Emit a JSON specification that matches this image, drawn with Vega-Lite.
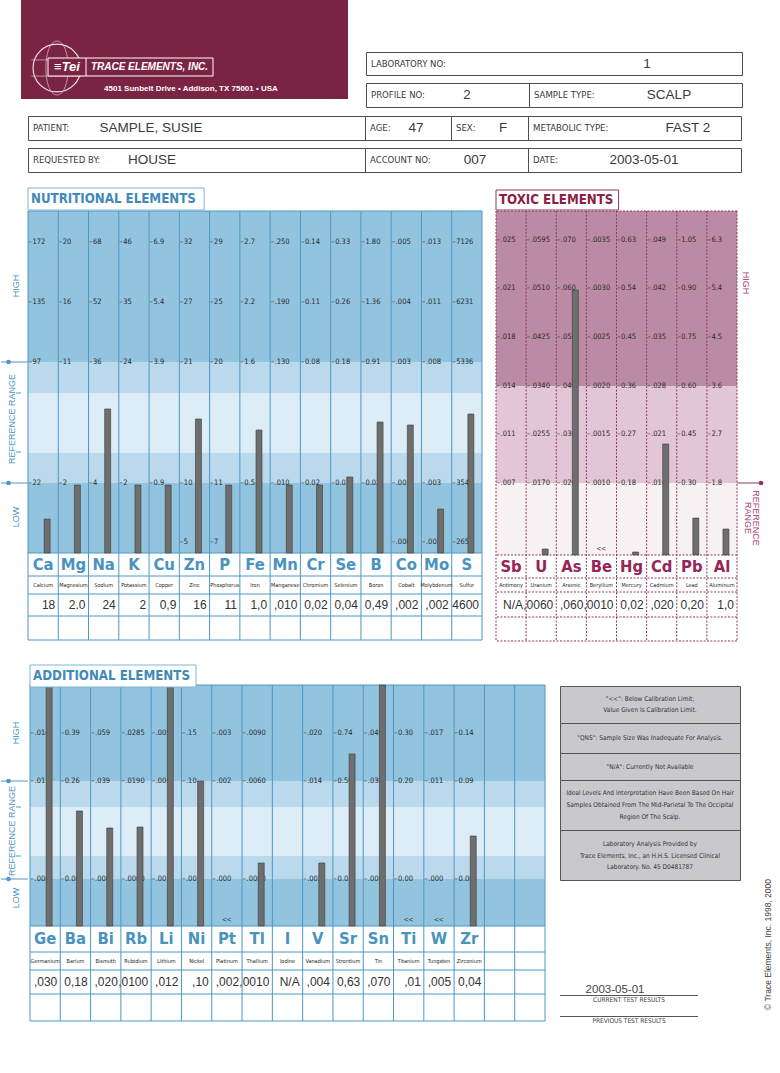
{
"$schema":"https://vega.github.io/schema/vega-lite/v6.json",
"background":"#ffffff",
"padding":0,
"config":{"view":{"stroke":null},"concat":{"spacing":0}},
"datasets":{
"nut":[
{"el":"Ca","name":"Calcium","res":"18","bar":34,"t1":"172","t2":"135","t3":"97","t4":"22","t5":""},
{"el":"Mg","name":"Magnesium","res":"2.0","bar":68,"t1":"20","t2":"16","t3":"11","t4":"2","t5":""},
{"el":"Na","name":"Sodium","res":"24","bar":144,"t1":"68","t2":"52","t3":"36","t4":"4","t5":""},
{"el":"K","name":"Potassium","res":"2","bar":68,"t1":"46","t2":"35","t3":"24","t4":"2","t5":""},
{"el":"Cu","name":"Copper","res":"0,9","bar":68,"t1":"6.9","t2":"5.4","t3":"3.9","t4":"0.9","t5":""},
{"el":"Zn","name":"Zinc","res":"16","bar":134,"t1":"32","t2":"27","t3":"21","t4":"10","t5":"5"},
{"el":"P","name":"Phosphorus","res":"11","bar":68,"t1":"29","t2":"25","t3":"20","t4":"11","t5":"7"},
{"el":"Fe","name":"Iron","res":"1,0","bar":123,"t1":"2.7","t2":"2.2","t3":"1.6","t4":"0.5","t5":""},
{"el":"Mn","name":"Manganese","res":",010","bar":68,"t1":".250","t2":".190","t3":".130","t4":".010","t5":""},
{"el":"Cr","name":"Chromium","res":"0,02","bar":68,"t1":"0.14","t2":"0.11","t3":"0.08","t4":"0.02","t5":""},
{"el":"Se","name":"Selenium","res":"0,04","bar":76,"t1":"0.33","t2":"0.26","t3":"0.18","t4":"0.03","t5":""},
{"el":"B","name":"Boron","res":"0,49","bar":131,"t1":"1.80","t2":"1.36","t3":"0.91","t4":"0.02","t5":""},
{"el":"Co","name":"Cobalt","res":",002","bar":128,"t1":".005","t2":".004","t3":".003","t4":".001","t5":".000"},
{"el":"Mo","name":"Molybdenum","res":",002","bar":44,"t1":".013","t2":".011","t3":".008","t4":".003","t5":".001"},
{"el":"S","name":"Sulfur","res":"4600","bar":139,"t1":"7126","t2":"6231","t3":"5336","t4":"3546","t5":"2651"}
],
"tox":[
{"el":"Sb","name":"Antimony","res":"N/A","bar":null,"flag":"","t1":".025","t2":".021","t3":".018","t4":".014","t5":".011","t6":".007"},
{"el":"U","name":"Uranium","res":",0060","bar":6,"flag":"","t1":".0595","t2":".0510","t3":".0425","t4":".0340","t5":".0255","t6":".0170"},
{"el":"As","name":"Arsenic","res":",060","bar":265,"flag":"","t1":".070","t2":".060","t3":".050","t4":".040","t5":".030","t6":".020"},
{"el":"Be","name":"Beryllium","res":",0010","bar":null,"flag":"<<","t1":".0035","t2":".0030","t3":".0025","t4":".0020","t5":".0015","t6":".0010"},
{"el":"Hg","name":"Mercury","res":"0,02","bar":3,"flag":"","t1":"0.63","t2":"0.54","t3":"0.45","t4":"0.36","t5":"0.27","t6":"0.18"},
{"el":"Cd","name":"Cadmium","res":",020","bar":111,"flag":"","t1":".049","t2":".042","t3":".035","t4":".028","t5":".021","t6":".014"},
{"el":"Pb","name":"Lead","res":"0,20","bar":37,"flag":"","t1":"1.05","t2":"0.90","t3":"0.75","t4":"0.60","t5":"0.45","t6":"0.30"},
{"el":"Al","name":"Aluminum","res":"1,0","bar":26,"flag":"","t1":"6.3","t2":"5.4","t3":"4.5","t4":"3.6","t5":"2.7","t6":"1.8"}
],
"add":[
{"el":"Ge","name":"Germanium","res":",030","bar":241,"flag":"","t1":".014","t2":".011","t3":".006"},
{"el":"Ba","name":"Barium","res":"0,18","bar":115,"flag":"","t1":"0.39","t2":"0.26","t3":"0.00"},
{"el":"Bi","name":"Bismuth","res":",020","bar":98,"flag":"","t1":".059","t2":".039","t3":".000"},
{"el":"Rb","name":"Rubidium","res":",0100","bar":99,"flag":"","t1":".0285","t2":".0190","t3":".0000"},
{"el":"Li","name":"Lithium","res":",012","bar":241,"flag":"","t1":".009","t2":".006","t3":".001"},
{"el":"Ni","name":"Nickel","res":",10","bar":145,"flag":"","t1":".15","t2":".10","t3":".00"},
{"el":"Pt","name":"Platinum","res":",002","bar":null,"flag":"<<","t1":".003","t2":".002","t3":".000"},
{"el":"Tl","name":"Thallium","res":",0010","bar":63,"flag":"","t1":".0090","t2":".0060","t3":".0000"},
{"el":"I","name":"Iodine","res":"N/A","bar":null,"flag":"","t1":"","t2":"","t3":""},
{"el":"V","name":"Vanadium","res":",004","bar":63,"flag":"","t1":".020","t2":".014","t3":".002"},
{"el":"Sr","name":"Strontium","res":"0,63","bar":172,"flag":"","t1":"0.74","t2":"0.50","t3":"0.03"},
{"el":"Sn","name":"Tin","res":",070","bar":241,"flag":"","t1":".045","t2":".030","t3":".000"},
{"el":"Ti","name":"Titanium","res":",01","bar":null,"flag":"<<","t1":"0.30","t2":"0.20","t3":"0.00"},
{"el":"W","name":"Tungsten","res":",005","bar":null,"flag":"<<","t1":".017","t2":".011","t3":".000"},
{"el":"Zr","name":"Zirconium","res":"0,04","bar":90,"flag":"","t1":"0.14","t2":"0.09","t3":"0.00"},
{"el":"_1","name":"","res":"","bar":null,"flag":"","t1":"","t2":"","t3":""},
{"el":"_2","name":"","res":"","bar":null,"flag":"","t1":"","t2":"","t3":""}
],
"nutZones":[{"zone":"HIGH","lo":191,"hi":342},{"zone":"REF EDGE","lo":160,"hi":191},{"zone":"REF CORE","lo":100,"hi":160},{"zone":"REF EDGE","lo":70,"hi":100},{"zone":"LOW","lo":0,"hi":70}],
"toxZones":[{"zone":"HIGH","lo":169,"hi":344},{"zone":"REFERENCE","lo":72,"hi":169},{"zone":"LOW","lo":0,"hi":72}],
"addZones":[{"zone":"HIGH","lo":145,"hi":241},{"zone":"REF EDGE","lo":119,"hi":145},{"zone":"REF CORE","lo":70,"hi":119},{"zone":"REF EDGE","lo":47,"hi":70},{"zone":"LOW","lo":0,"hi":47}]
},
"vconcat":[
{"vconcat":[
 {"hconcat":[
  {"width":20,"height":107,"data":{"values":[{}]},"mark":{"type":"point","opacity":0}},
  {"width":327,"height":99,"view":{"fill":"#7b2342","stroke":null},"data":{"values":[{"brand":"TRACE ELEMENTS, INC.","logo":"≡Tei","addr":"4501 Sunbelt Drive • Addison, TX  75001 • USA"}]},
   "layer":[
    {"mark":{"type":"point","shape":"circle","size":2290,"filled":false,"stroke":"#eddde3","strokeWidth":1.2,"opacity":1,"xOffset":-127.5,"yOffset":18.5}},
    {"mark":{"type":"point","shape":"M0,-1C0.55,-1 0.55,1 0,1M0,-1C-0.55,-1 -0.55,1 0,1M-0.95,-0.3H0.95M-0.95,0.3H0.95","size":2916,"filled":false,"stroke":"#d9c3cc","strokeWidth":0.7,"opacity":1,"xOffset":-127.5,"yOffset":18.5}},
    {"mark":{"type":"point","shape":"M-1,-0.109H1V0.109H-1ZM-0.539,-0.109V0.109","size":27225,"filled":true,"fill":"#7b2342","stroke":"#ffffff","strokeWidth":1,"opacity":1,"xOffset":-54,"yOffset":17.5}},
    {"mark":{"type":"text","baseline":"middle","fontSize":13,"fontStyle":"italic","fontWeight":"bold","font":"Liberation Sans, Arial, sans-serif","fill":"#ffffff","dx":-117.5,"dy":17.5},"encoding":{"text":{"field":"logo"}}},
    {"mark":{"type":"text","baseline":"middle","fontSize":10,"fontStyle":"italic","fontWeight":"bold","font":"Liberation Sans, Arial, sans-serif","fill":"#ffffff","dx":-35,"dy":17.5},"encoding":{"text":{"field":"brand"}}},
    {"mark":{"type":"text","baseline":"middle","fontSize":8,"fontWeight":"bold","font":"Liberation Sans, Arial, sans-serif","fill":"#ffffff","dx":6.5,"dy":39.5},"encoding":{"text":{"field":"addr"}}}
   ]},
  {"width":17,"height":10,"data":{"values":[{}]},"mark":{"type":"point","opacity":0}},
  {"vconcat":[
    {"width":376,"height":51,"data":{"values":[{}]},"mark":{"type":"point","opacity":0}},
    {"width":376,"height":23,"view":{"stroke":"#4d4d4d","strokeWidth":1,"fill":"#ffffff"},"data":{"values":[{"label":"LABORATORY NO:","value":"1"}]},"layer":[{"mark":{"type":"text","align":"left","baseline":"middle","dx":-183,"fontSize":9.5,"font":"Liberation Sans Narrow, DejaVu Sans Condensed, sans-serif","fill":"#3a3a3a"},"encoding":{"text":{"field":"label"}}},{"mark":{"type":"text","align":"center","baseline":"middle","dx":93,"fontSize":13.5,"font":"Liberation Sans, Arial, sans-serif","fill":"#3a3a3a"},"encoding":{"text":{"field":"value"}}}]},
    {"width":10,"height":6,"data":{"values":[{}]},"mark":{"type":"point","opacity":0}},
    {"hconcat":[
      {"width":163,"height":24,"view":{"stroke":"#4d4d4d","strokeWidth":1,"fill":"#ffffff"},"data":{"values":[{"label":"PROFILE NO:","value":"2"}]},"layer":[{"mark":{"type":"text","align":"left","baseline":"middle","dx":-76.5,"fontSize":9.5,"font":"Liberation Sans Narrow, DejaVu Sans Condensed, sans-serif","fill":"#3a3a3a"},"encoding":{"text":{"field":"label"}}},{"mark":{"type":"text","align":"center","baseline":"middle","dx":19.5,"fontSize":13.5,"font":"Liberation Sans, Arial, sans-serif","fill":"#3a3a3a"},"encoding":{"text":{"field":"value"}}}]},
      {"width":213,"height":24,"view":{"stroke":"#4d4d4d","strokeWidth":1,"fill":"#ffffff"},"data":{"values":[{"label":"SAMPLE TYPE:","value":"SCALP"}]},"layer":[{"mark":{"type":"text","align":"left","baseline":"middle","dx":-101.5,"fontSize":9.5,"font":"Liberation Sans Narrow, DejaVu Sans Condensed, sans-serif","fill":"#3a3a3a"},"encoding":{"text":{"field":"label"}}},{"mark":{"type":"text","align":"center","baseline":"middle","dx":33.5,"fontSize":13.5,"font":"Liberation Sans, Arial, sans-serif","fill":"#3a3a3a"},"encoding":{"text":{"field":"value"}}}]}
    ],"spacing":0,"bounds":"flush"}
  ],"spacing":0,"bounds":"full"}
 ],"spacing":0,"bounds":"full"},
 {"width":10,"height":7,"data":{"values":[{}]},"mark":{"type":"point","opacity":0}},
 {"hconcat":[
  {"width":27,"height":24,"data":{"values":[{}]},"mark":{"type":"point","opacity":0}},
  {"width":337,"height":24,"view":{"stroke":"#4d4d4d","strokeWidth":1,"fill":"#ffffff"},"data":{"values":[{"label":"PATIENT:","value":"SAMPLE, SUSIE"}]},"layer":[{"mark":{"type":"text","align":"left","baseline":"middle","dx":-163.5,"fontSize":9.5,"font":"Liberation Sans Narrow, DejaVu Sans Condensed, sans-serif","fill":"#3a3a3a"},"encoding":{"text":{"field":"label"}}},{"mark":{"type":"text","align":"center","baseline":"middle","dx":-45.5,"fontSize":13.5,"font":"Liberation Sans, Arial, sans-serif","fill":"#3a3a3a"},"encoding":{"text":{"field":"value"}}}]},
  {"width":86,"height":24,"view":{"stroke":"#4d4d4d","strokeWidth":1,"fill":"#ffffff"},"data":{"values":[{"label":"AGE:","value":"47"}]},"layer":[{"mark":{"type":"text","align":"left","baseline":"middle","dx":-38,"fontSize":9.5,"font":"Liberation Sans Narrow, DejaVu Sans Condensed, sans-serif","fill":"#3a3a3a"},"encoding":{"text":{"field":"label"}}},{"mark":{"type":"text","align":"center","baseline":"middle","dx":8,"fontSize":13.5,"font":"Liberation Sans, Arial, sans-serif","fill":"#3a3a3a"},"encoding":{"text":{"field":"value"}}}]},
  {"width":77,"height":24,"view":{"stroke":"#4d4d4d","strokeWidth":1,"fill":"#ffffff"},"data":{"values":[{"label":"SEX:","value":"F"}]},"layer":[{"mark":{"type":"text","align":"left","baseline":"middle","dx":-33.5,"fontSize":9.5,"font":"Liberation Sans Narrow, DejaVu Sans Condensed, sans-serif","fill":"#3a3a3a"},"encoding":{"text":{"field":"label"}}},{"mark":{"type":"text","align":"center","baseline":"middle","dx":13.5,"fontSize":13.5,"font":"Liberation Sans, Arial, sans-serif","fill":"#3a3a3a"},"encoding":{"text":{"field":"value"}}}]},
  {"width":213,"height":24,"view":{"stroke":"#4d4d4d","strokeWidth":1,"fill":"#ffffff"},"data":{"values":[{"label":"METABOLIC TYPE:","value":"FAST 2"}]},"layer":[{"mark":{"type":"text","align":"left","baseline":"middle","dx":-101.5,"fontSize":9.5,"font":"Liberation Sans Narrow, DejaVu Sans Condensed, sans-serif","fill":"#3a3a3a"},"encoding":{"text":{"field":"label"}}},{"mark":{"type":"text","align":"center","baseline":"middle","dx":53.5,"fontSize":13.5,"font":"Liberation Sans, Arial, sans-serif","fill":"#3a3a3a"},"encoding":{"text":{"field":"value"}}}]}
 ],"spacing":0,"bounds":"flush"},
 {"width":10,"height":6,"data":{"values":[{}]},"mark":{"type":"point","opacity":0}},
 {"hconcat":[
  {"width":27,"height":24,"data":{"values":[{}]},"mark":{"type":"point","opacity":0}},
  {"width":337,"height":24,"view":{"stroke":"#4d4d4d","strokeWidth":1,"fill":"#ffffff"},"data":{"values":[{"label":"REQUESTED BY:","value":"HOUSE"}]},"layer":[{"mark":{"type":"text","align":"left","baseline":"middle","dx":-163.5,"fontSize":9.5,"font":"Liberation Sans Narrow, DejaVu Sans Condensed, sans-serif","fill":"#3a3a3a"},"encoding":{"text":{"field":"label"}}},{"mark":{"type":"text","align":"center","baseline":"middle","dx":-44.5,"fontSize":13.5,"font":"Liberation Sans, Arial, sans-serif","fill":"#3a3a3a"},"encoding":{"text":{"field":"value"}}}]},
  {"width":163,"height":24,"view":{"stroke":"#4d4d4d","strokeWidth":1,"fill":"#ffffff"},"data":{"values":[{"label":"ACCOUNT NO:","value":"007"}]},"layer":[{"mark":{"type":"text","align":"left","baseline":"middle","dx":-76.5,"fontSize":9.5,"font":"Liberation Sans Narrow, DejaVu Sans Condensed, sans-serif","fill":"#3a3a3a"},"encoding":{"text":{"field":"label"}}},{"mark":{"type":"text","align":"center","baseline":"middle","dx":28.5,"fontSize":13.5,"font":"Liberation Sans, Arial, sans-serif","fill":"#3a3a3a"},"encoding":{"text":{"field":"value"}}}]},
  {"width":213,"height":24,"view":{"stroke":"#4d4d4d","strokeWidth":1,"fill":"#ffffff"},"data":{"values":[{"label":"DATE:","value":"2003-05-01"}]},"layer":[{"mark":{"type":"text","align":"left","baseline":"middle","dx":-101.5,"fontSize":9.5,"font":"Liberation Sans Narrow, DejaVu Sans Condensed, sans-serif","fill":"#3a3a3a"},"encoding":{"text":{"field":"label"}}},{"mark":{"type":"text","align":"center","baseline":"middle","dx":9.5,"fontSize":13.5,"font":"Liberation Sans, Arial, sans-serif","fill":"#3a3a3a"},"encoding":{"text":{"field":"value"}}}]}
 ],"spacing":0,"bounds":"flush"},
 {"width":10,"height":10,"data":{"values":[{}]},"mark":{"type":"point","opacity":0}}
],"spacing":0,"bounds":"full"},

{"hconcat":[
 {"width":27,"height":459,"data":{"values":[{"hi":"HIGH","ref":"REFERENCE RANGE","lo":"LOW"}]},"layer":[
  {"mark":{"type":"rule","stroke":"#4c98c4","strokeWidth":1},"encoding":{"y":{"datum":191,"type":"quantitative","scale":{"domain":[-89,370],"nice":false,"zero":false},"axis":null}}},
  {"mark":{"type":"rule","stroke":"#4c98c4","strokeWidth":1},"encoding":{"y":{"datum":70,"type":"quantitative","scale":{"domain":[-89,370],"nice":false,"zero":false},"axis":null}}},
  {"mark":{"type":"point","filled":true,"size":22,"color":"#4c98c4","opacity":1,"xOffset":-6},"encoding":{"y":{"datum":191,"type":"quantitative","scale":{"domain":[-89,370],"nice":false,"zero":false},"axis":null}}},
  {"mark":{"type":"point","filled":true,"size":22,"color":"#4c98c4","opacity":1,"xOffset":-6},"encoding":{"y":{"datum":70,"type":"quantitative","scale":{"domain":[-89,370],"nice":false,"zero":false},"axis":null}}},
  {"mark":{"type":"tick","orient":"horizontal","size":5,"thickness":1,"color":"#4c98c4","opacity":1,"xOffset":4},"encoding":{"y":{"datum":160,"type":"quantitative","scale":{"domain":[-89,370],"nice":false,"zero":false},"axis":null}}},
  {"mark":{"type":"tick","orient":"horizontal","size":5,"thickness":1,"color":"#4c98c4","opacity":1,"xOffset":4},"encoding":{"y":{"datum":101,"type":"quantitative","scale":{"domain":[-89,370],"nice":false,"zero":false},"axis":null}}},
  {"mark":{"type":"text","angle":270,"baseline":"middle","fontSize":9,"font":"Liberation Sans, Arial, sans-serif","fill":"#4b96c3","xOffset":1},"encoding":{"y":{"datum":267,"type":"quantitative","scale":{"domain":[-89,370],"nice":false,"zero":false},"axis":null},"text":{"field":"hi"}}},
  {"mark":{"type":"text","angle":270,"baseline":"middle","fontSize":9,"font":"Liberation Sans, Arial, sans-serif","fill":"#4b96c3","xOffset":-3},"encoding":{"y":{"datum":134,"type":"quantitative","scale":{"domain":[-89,370],"nice":false,"zero":false},"axis":null},"text":{"field":"ref"}}},
  {"mark":{"type":"text","angle":270,"baseline":"middle","fontSize":9,"font":"Liberation Sans, Arial, sans-serif","fill":"#4b96c3","xOffset":1},"encoding":{"y":{"datum":36,"type":"quantitative","scale":{"domain":[-89,370],"nice":false,"zero":false},"axis":null},"text":{"field":"lo"}}}
 ]},
 {"width":454,"height":459,"layer":[
  {"data":{"name":"nutZones"},"mark":{"type":"rect"},"encoding":{"y":{"field":"lo","type":"quantitative","scale":{"domain":[-89,370],"nice":false,"zero":false},"axis":null},"y2":{"field":"hi"},"color":{"field":"zone","type":"nominal","scale":{"domain":["HIGH","REF EDGE","REF CORE","LOW"],"range":["#93c4df","#bad9ec","#dcedf7","#93c4df"]},"legend":null}}},
  {"data":{"values":[{}]},"layer":[
   {"mark":{"type":"rule","stroke":"#4c98c4","strokeWidth":1},"encoding":{"y":{"datum":342,"type":"quantitative","scale":{"domain":[-89,370],"nice":false,"zero":false},"axis":null}}},
   {"mark":{"type":"rule","stroke":"#4c98c4","strokeWidth":1},"encoding":{"y":{"datum":0,"type":"quantitative","scale":{"domain":[-89,370],"nice":false,"zero":false},"axis":null}}},
   {"mark":{"type":"rule","stroke":"#4c98c4","strokeWidth":1},"encoding":{"y":{"datum":-23,"type":"quantitative","scale":{"domain":[-89,370],"nice":false,"zero":false},"axis":null}}},
   {"mark":{"type":"rule","stroke":"#4c98c4","strokeWidth":1},"encoding":{"y":{"datum":-41,"type":"quantitative","scale":{"domain":[-89,370],"nice":false,"zero":false},"axis":null}}},
   {"mark":{"type":"rule","stroke":"#4c98c4","strokeWidth":1},"encoding":{"y":{"datum":-63,"type":"quantitative","scale":{"domain":[-89,370],"nice":false,"zero":false},"axis":null}}},
   {"mark":{"type":"rule","stroke":"#4c98c4","strokeWidth":1},"encoding":{"y":{"datum":-87,"type":"quantitative","scale":{"domain":[-89,370],"nice":false,"zero":false},"axis":null}}}
  ]},
  {"data":{"name":"nut"},"layer":[
   {"mark":{"type":"rule","stroke":"#4c98c4","strokeWidth":1},"encoding":{"x":{"field":"el","type":"nominal","bandPosition":0,"scale":{"type":"band","domain":["Ca","Mg","Na","K","Cu","Zn","P","Fe","Mn","Cr","Se","B","Co","Mo","S"],"paddingInner":0,"paddingOuter":0},"axis":null},"y":{"datum":342,"type":"quantitative","scale":{"domain":[-89,370],"nice":false,"zero":false},"axis":null},"y2":{"datum":-87}}},
   {"transform":[{"filter":"datum.el=='S'"}],"mark":{"type":"rule","stroke":"#4c98c4","strokeWidth":1},"encoding":{"x":{"field":"el","type":"nominal","bandPosition":1,"scale":{"type":"band","domain":["Ca","Mg","Na","K","Cu","Zn","P","Fe","Mn","Cr","Se","B","Co","Mo","S"],"paddingInner":0,"paddingOuter":0},"axis":null},"y":{"datum":342,"type":"quantitative","scale":{"domain":[-89,370],"nice":false,"zero":false},"axis":null},"y2":{"datum":-87}}},
   {"transform":[{"filter":"datum.t1!=''"}],"mark":{"type":"text","align":"left","baseline":"middle","dx":4.5,"fontSize":7.5,"font":"Liberation Sans Narrow, DejaVu Sans Condensed, sans-serif","fill":"#2a2a2a"},"encoding":{"x":{"field":"el","type":"nominal","bandPosition":0,"scale":{"type":"band","domain":["Ca","Mg","Na","K","Cu","Zn","P","Fe","Mn","Cr","Se","B","Co","Mo","S"],"paddingInner":0,"paddingOuter":0},"axis":null},"y":{"datum":311,"type":"quantitative","scale":{"domain":[-89,370],"nice":false,"zero":false},"axis":null},"text":{"field":"t1"}}},
   {"transform":[{"filter":"datum.t1!=''"}],"mark":{"type":"text","align":"left","baseline":"middle","dx":0.5,"fontSize":7.5,"font":"Liberation Sans Narrow, DejaVu Sans Condensed, sans-serif","fill":"#2a2a2a"},"encoding":{"x":{"field":"el","type":"nominal","bandPosition":0,"scale":{"type":"band","domain":["Ca","Mg","Na","K","Cu","Zn","P","Fe","Mn","Cr","Se","B","Co","Mo","S"],"paddingInner":0,"paddingOuter":0},"axis":null},"y":{"datum":311,"type":"quantitative","scale":{"domain":[-89,370],"nice":false,"zero":false},"axis":null},"text":{"value":"–"}}},
   {"transform":[{"filter":"datum.t2!=''"}],"mark":{"type":"text","align":"left","baseline":"middle","dx":4.5,"fontSize":7.5,"font":"Liberation Sans Narrow, DejaVu Sans Condensed, sans-serif","fill":"#2a2a2a"},"encoding":{"x":{"field":"el","type":"nominal","bandPosition":0,"scale":{"type":"band","domain":["Ca","Mg","Na","K","Cu","Zn","P","Fe","Mn","Cr","Se","B","Co","Mo","S"],"paddingInner":0,"paddingOuter":0},"axis":null},"y":{"datum":251,"type":"quantitative","scale":{"domain":[-89,370],"nice":false,"zero":false},"axis":null},"text":{"field":"t2"}}},
   {"transform":[{"filter":"datum.t2!=''"}],"mark":{"type":"text","align":"left","baseline":"middle","dx":0.5,"fontSize":7.5,"font":"Liberation Sans Narrow, DejaVu Sans Condensed, sans-serif","fill":"#2a2a2a"},"encoding":{"x":{"field":"el","type":"nominal","bandPosition":0,"scale":{"type":"band","domain":["Ca","Mg","Na","K","Cu","Zn","P","Fe","Mn","Cr","Se","B","Co","Mo","S"],"paddingInner":0,"paddingOuter":0},"axis":null},"y":{"datum":251,"type":"quantitative","scale":{"domain":[-89,370],"nice":false,"zero":false},"axis":null},"text":{"value":"–"}}},
   {"transform":[{"filter":"datum.t3!=''"}],"mark":{"type":"text","align":"left","baseline":"middle","dx":4.5,"fontSize":7.5,"font":"Liberation Sans Narrow, DejaVu Sans Condensed, sans-serif","fill":"#2a2a2a"},"encoding":{"x":{"field":"el","type":"nominal","bandPosition":0,"scale":{"type":"band","domain":["Ca","Mg","Na","K","Cu","Zn","P","Fe","Mn","Cr","Se","B","Co","Mo","S"],"paddingInner":0,"paddingOuter":0},"axis":null},"y":{"datum":191,"type":"quantitative","scale":{"domain":[-89,370],"nice":false,"zero":false},"axis":null},"text":{"field":"t3"}}},
   {"transform":[{"filter":"datum.t3!=''"}],"mark":{"type":"text","align":"left","baseline":"middle","dx":0.5,"fontSize":7.5,"font":"Liberation Sans Narrow, DejaVu Sans Condensed, sans-serif","fill":"#2a2a2a"},"encoding":{"x":{"field":"el","type":"nominal","bandPosition":0,"scale":{"type":"band","domain":["Ca","Mg","Na","K","Cu","Zn","P","Fe","Mn","Cr","Se","B","Co","Mo","S"],"paddingInner":0,"paddingOuter":0},"axis":null},"y":{"datum":191,"type":"quantitative","scale":{"domain":[-89,370],"nice":false,"zero":false},"axis":null},"text":{"value":"–"}}},
   {"transform":[{"filter":"datum.t4!=''"}],"mark":{"type":"text","align":"left","baseline":"middle","dx":4.5,"fontSize":7.5,"font":"Liberation Sans Narrow, DejaVu Sans Condensed, sans-serif","fill":"#2a2a2a"},"encoding":{"x":{"field":"el","type":"nominal","bandPosition":0,"scale":{"type":"band","domain":["Ca","Mg","Na","K","Cu","Zn","P","Fe","Mn","Cr","Se","B","Co","Mo","S"],"paddingInner":0,"paddingOuter":0},"axis":null},"y":{"datum":70,"type":"quantitative","scale":{"domain":[-89,370],"nice":false,"zero":false},"axis":null},"text":{"field":"t4"}}},
   {"transform":[{"filter":"datum.t4!=''"}],"mark":{"type":"text","align":"left","baseline":"middle","dx":0.5,"fontSize":7.5,"font":"Liberation Sans Narrow, DejaVu Sans Condensed, sans-serif","fill":"#2a2a2a"},"encoding":{"x":{"field":"el","type":"nominal","bandPosition":0,"scale":{"type":"band","domain":["Ca","Mg","Na","K","Cu","Zn","P","Fe","Mn","Cr","Se","B","Co","Mo","S"],"paddingInner":0,"paddingOuter":0},"axis":null},"y":{"datum":70,"type":"quantitative","scale":{"domain":[-89,370],"nice":false,"zero":false},"axis":null},"text":{"value":"–"}}},
   {"transform":[{"filter":"datum.t5!=''"}],"mark":{"type":"text","align":"left","baseline":"middle","dx":4.5,"fontSize":7.5,"font":"Liberation Sans Narrow, DejaVu Sans Condensed, sans-serif","fill":"#2a2a2a"},"encoding":{"x":{"field":"el","type":"nominal","bandPosition":0,"scale":{"type":"band","domain":["Ca","Mg","Na","K","Cu","Zn","P","Fe","Mn","Cr","Se","B","Co","Mo","S"],"paddingInner":0,"paddingOuter":0},"axis":null},"y":{"datum":11,"type":"quantitative","scale":{"domain":[-89,370],"nice":false,"zero":false},"axis":null},"text":{"field":"t5"}}},
   {"transform":[{"filter":"datum.t5!=''"}],"mark":{"type":"text","align":"left","baseline":"middle","dx":0.5,"fontSize":7.5,"font":"Liberation Sans Narrow, DejaVu Sans Condensed, sans-serif","fill":"#2a2a2a"},"encoding":{"x":{"field":"el","type":"nominal","bandPosition":0,"scale":{"type":"band","domain":["Ca","Mg","Na","K","Cu","Zn","P","Fe","Mn","Cr","Se","B","Co","Mo","S"],"paddingInner":0,"paddingOuter":0},"axis":null},"y":{"datum":11,"type":"quantitative","scale":{"domain":[-89,370],"nice":false,"zero":false},"axis":null},"text":{"value":"–"}}},
   {"transform":[{"filter":"isValid(datum.bar)"}],"mark":{"type":"bar","width":6,"xOffset":4,"color":"#6e6e6e","stroke":"#3a3a3a","strokeWidth":0.6},"encoding":{"x":{"field":"el","type":"nominal","scale":{"type":"band","domain":["Ca","Mg","Na","K","Cu","Zn","P","Fe","Mn","Cr","Se","B","Co","Mo","S"],"paddingInner":0,"paddingOuter":0},"axis":null},"y":{"field":"bar","type":"quantitative","scale":{"domain":[-89,370],"nice":false,"zero":false},"axis":null},"y2":{"datum":0}}},
   {"mark":{"type":"text","baseline":"middle","fontSize":16.5,"fontWeight":"bold","font":"Liberation Sans Narrow, DejaVu Sans Condensed, sans-serif","fill":"#4a93bf"},"encoding":{"x":{"field":"el","type":"nominal","bandPosition":0.5,"scale":{"type":"band","domain":["Ca","Mg","Na","K","Cu","Zn","P","Fe","Mn","Cr","Se","B","Co","Mo","S"],"paddingInner":0,"paddingOuter":0},"axis":null},"y":{"datum":-11.5,"type":"quantitative","scale":{"domain":[-89,370],"nice":false,"zero":false},"axis":null},"text":{"field":"el"}}},
   {"mark":{"type":"text","baseline":"middle","fontSize":5.5,"font":"Liberation Sans Narrow, DejaVu Sans Condensed, sans-serif","fill":"#222222"},"encoding":{"x":{"field":"el","type":"nominal","bandPosition":0.5,"scale":{"type":"band","domain":["Ca","Mg","Na","K","Cu","Zn","P","Fe","Mn","Cr","Se","B","Co","Mo","S"],"paddingInner":0,"paddingOuter":0},"axis":null},"y":{"datum":-32,"type":"quantitative","scale":{"domain":[-89,370],"nice":false,"zero":false},"axis":null},"text":{"field":"name"}}},
   {"mark":{"type":"text","align":"right","baseline":"middle","dx":-3,"fontSize":12,"font":"Liberation Sans, Arial, sans-serif","fill":"#333333"},"encoding":{"x":{"field":"el","type":"nominal","bandPosition":1,"scale":{"type":"band","domain":["Ca","Mg","Na","K","Cu","Zn","P","Fe","Mn","Cr","Se","B","Co","Mo","S"],"paddingInner":0,"paddingOuter":0},"axis":null},"y":{"datum":-52,"type":"quantitative","scale":{"domain":[-89,370],"nice":false,"zero":false},"axis":null},"text":{"field":"res"}}}
  ]},
  {"data":{"values":[{"title":"NUTRITIONAL ELEMENTS"}]},"layer":[
   {"mark":{"type":"rect","fill":"#ffffff","stroke":"#7fb6d6","strokeWidth":1},"encoding":{"x":{"datum":"Ca","type":"nominal","bandPosition":0,"scale":{"type":"band","domain":["Ca","Mg","Na","K","Cu","Zn","P","Fe","Mn","Cr","Se","B","Co","Mo","S"],"paddingInner":0,"paddingOuter":0},"axis":null},"x2":{"datum":"Zn","bandPosition":0.82},"y":{"datum":365,"type":"quantitative","scale":{"domain":[-89,370],"nice":false,"zero":false},"axis":null},"y2":{"datum":343}}},
   {"mark":{"type":"text","align":"left","baseline":"middle","dx":3,"fontSize":13.2,"fontWeight":"bold","font":"Liberation Sans Narrow, DejaVu Sans Condensed, sans-serif","fill":"#3f8ab8"},"encoding":{"x":{"datum":"Ca","type":"nominal","bandPosition":0,"scale":{"type":"band","domain":["Ca","Mg","Na","K","Cu","Zn","P","Fe","Mn","Cr","Se","B","Co","Mo","S"],"paddingInner":0,"paddingOuter":0},"axis":null},"y":{"datum":354,"type":"quantitative","scale":{"domain":[-89,370],"nice":false,"zero":false},"axis":null},"text":{"field":"title"}}}
  ]}
 ]},
 {"width":14,"height":10,"data":{"values":[{}]},"mark":{"type":"point","opacity":0}},
 {"width":241,"height":459,"layer":[
  {"data":{"name":"toxZones"},"mark":{"type":"rect"},"encoding":{"y":{"field":"lo","type":"quantitative","scale":{"domain":[-87,372],"nice":false,"zero":false},"axis":null},"y2":{"field":"hi"},"color":{"field":"zone","type":"nominal","scale":{"domain":["HIGH","REFERENCE","LOW"],"range":["#bb8aa4","#e2c6d5","#f8f1f4"]},"legend":null}}},
  {"data":{"values":[{}]},"layer":[
   {"mark":{"type":"rule","stroke":"#8a3a62","strokeWidth":1,"strokeDash":[2,1.5]},"encoding":{"y":{"datum":344,"type":"quantitative","scale":{"domain":[-87,372],"nice":false,"zero":false},"axis":null}}},
   {"mark":{"type":"rule","stroke":"#8a3a62","strokeWidth":1,"strokeDash":[2,1.5]},"encoding":{"y":{"datum":0,"type":"quantitative","scale":{"domain":[-87,372],"nice":false,"zero":false},"axis":null}}},
   {"mark":{"type":"rule","stroke":"#8a3a62","strokeWidth":1,"strokeDash":[2,1.5]},"encoding":{"y":{"datum":-23,"type":"quantitative","scale":{"domain":[-87,372],"nice":false,"zero":false},"axis":null}}},
   {"mark":{"type":"rule","stroke":"#8a3a62","strokeWidth":1,"strokeDash":[2,1.5]},"encoding":{"y":{"datum":-37,"type":"quantitative","scale":{"domain":[-87,372],"nice":false,"zero":false},"axis":null}}},
   {"mark":{"type":"rule","stroke":"#8a3a62","strokeWidth":1,"strokeDash":[2,1.5]},"encoding":{"y":{"datum":-62,"type":"quantitative","scale":{"domain":[-87,372],"nice":false,"zero":false},"axis":null}}},
   {"mark":{"type":"rule","stroke":"#8a3a62","strokeWidth":1,"strokeDash":[2,1.5]},"encoding":{"y":{"datum":-86,"type":"quantitative","scale":{"domain":[-87,372],"nice":false,"zero":false},"axis":null}}}
  ]},
  {"data":{"name":"tox"},"layer":[
   {"mark":{"type":"rule","stroke":"#8a3a62","strokeWidth":1,"strokeDash":[2,1.5]},"encoding":{"x":{"field":"el","type":"nominal","bandPosition":0,"scale":{"type":"band","domain":["Sb","U","As","Be","Hg","Cd","Pb","Al"],"paddingInner":0,"paddingOuter":0},"axis":null},"y":{"datum":344,"type":"quantitative","scale":{"domain":[-87,372],"nice":false,"zero":false},"axis":null},"y2":{"datum":-86}}},
   {"transform":[{"filter":"datum.el=='Al'"}],"mark":{"type":"rule","stroke":"#8a3a62","strokeWidth":1,"strokeDash":[2,1.5]},"encoding":{"x":{"field":"el","type":"nominal","bandPosition":1,"scale":{"type":"band","domain":["Sb","U","As","Be","Hg","Cd","Pb","Al"],"paddingInner":0,"paddingOuter":0},"axis":null},"y":{"datum":344,"type":"quantitative","scale":{"domain":[-87,372],"nice":false,"zero":false},"axis":null},"y2":{"datum":-86}}},
   {"mark":{"type":"text","align":"left","baseline":"middle","dx":4.5,"fontSize":7.5,"font":"Liberation Sans Narrow, DejaVu Sans Condensed, sans-serif","fill":"#2a2a2a"},"encoding":{"x":{"field":"el","type":"nominal","bandPosition":0,"scale":{"type":"band","domain":["Sb","U","As","Be","Hg","Cd","Pb","Al"],"paddingInner":0,"paddingOuter":0},"axis":null},"y":{"datum":315,"type":"quantitative","scale":{"domain":[-87,372],"nice":false,"zero":false},"axis":null},"text":{"field":"t1"}}},
   {"mark":{"type":"text","align":"left","baseline":"middle","dx":0.5,"fontSize":7.5,"font":"Liberation Sans Narrow, DejaVu Sans Condensed, sans-serif","fill":"#2a2a2a"},"encoding":{"x":{"field":"el","type":"nominal","bandPosition":0,"scale":{"type":"band","domain":["Sb","U","As","Be","Hg","Cd","Pb","Al"],"paddingInner":0,"paddingOuter":0},"axis":null},"y":{"datum":315,"type":"quantitative","scale":{"domain":[-87,372],"nice":false,"zero":false},"axis":null},"text":{"value":"–"}}},
   {"mark":{"type":"text","align":"left","baseline":"middle","dx":4.5,"fontSize":7.5,"font":"Liberation Sans Narrow, DejaVu Sans Condensed, sans-serif","fill":"#2a2a2a"},"encoding":{"x":{"field":"el","type":"nominal","bandPosition":0,"scale":{"type":"band","domain":["Sb","U","As","Be","Hg","Cd","Pb","Al"],"paddingInner":0,"paddingOuter":0},"axis":null},"y":{"datum":267,"type":"quantitative","scale":{"domain":[-87,372],"nice":false,"zero":false},"axis":null},"text":{"field":"t2"}}},
   {"mark":{"type":"text","align":"left","baseline":"middle","dx":0.5,"fontSize":7.5,"font":"Liberation Sans Narrow, DejaVu Sans Condensed, sans-serif","fill":"#2a2a2a"},"encoding":{"x":{"field":"el","type":"nominal","bandPosition":0,"scale":{"type":"band","domain":["Sb","U","As","Be","Hg","Cd","Pb","Al"],"paddingInner":0,"paddingOuter":0},"axis":null},"y":{"datum":267,"type":"quantitative","scale":{"domain":[-87,372],"nice":false,"zero":false},"axis":null},"text":{"value":"–"}}},
   {"mark":{"type":"text","align":"left","baseline":"middle","dx":4.5,"fontSize":7.5,"font":"Liberation Sans Narrow, DejaVu Sans Condensed, sans-serif","fill":"#2a2a2a"},"encoding":{"x":{"field":"el","type":"nominal","bandPosition":0,"scale":{"type":"band","domain":["Sb","U","As","Be","Hg","Cd","Pb","Al"],"paddingInner":0,"paddingOuter":0},"axis":null},"y":{"datum":218,"type":"quantitative","scale":{"domain":[-87,372],"nice":false,"zero":false},"axis":null},"text":{"field":"t3"}}},
   {"mark":{"type":"text","align":"left","baseline":"middle","dx":0.5,"fontSize":7.5,"font":"Liberation Sans Narrow, DejaVu Sans Condensed, sans-serif","fill":"#2a2a2a"},"encoding":{"x":{"field":"el","type":"nominal","bandPosition":0,"scale":{"type":"band","domain":["Sb","U","As","Be","Hg","Cd","Pb","Al"],"paddingInner":0,"paddingOuter":0},"axis":null},"y":{"datum":218,"type":"quantitative","scale":{"domain":[-87,372],"nice":false,"zero":false},"axis":null},"text":{"value":"–"}}},
   {"mark":{"type":"text","align":"left","baseline":"middle","dx":4.5,"fontSize":7.5,"font":"Liberation Sans Narrow, DejaVu Sans Condensed, sans-serif","fill":"#2a2a2a"},"encoding":{"x":{"field":"el","type":"nominal","bandPosition":0,"scale":{"type":"band","domain":["Sb","U","As","Be","Hg","Cd","Pb","Al"],"paddingInner":0,"paddingOuter":0},"axis":null},"y":{"datum":169,"type":"quantitative","scale":{"domain":[-87,372],"nice":false,"zero":false},"axis":null},"text":{"field":"t4"}}},
   {"mark":{"type":"text","align":"left","baseline":"middle","dx":0.5,"fontSize":7.5,"font":"Liberation Sans Narrow, DejaVu Sans Condensed, sans-serif","fill":"#2a2a2a"},"encoding":{"x":{"field":"el","type":"nominal","bandPosition":0,"scale":{"type":"band","domain":["Sb","U","As","Be","Hg","Cd","Pb","Al"],"paddingInner":0,"paddingOuter":0},"axis":null},"y":{"datum":169,"type":"quantitative","scale":{"domain":[-87,372],"nice":false,"zero":false},"axis":null},"text":{"value":"–"}}},
   {"mark":{"type":"text","align":"left","baseline":"middle","dx":4.5,"fontSize":7.5,"font":"Liberation Sans Narrow, DejaVu Sans Condensed, sans-serif","fill":"#2a2a2a"},"encoding":{"x":{"field":"el","type":"nominal","bandPosition":0,"scale":{"type":"band","domain":["Sb","U","As","Be","Hg","Cd","Pb","Al"],"paddingInner":0,"paddingOuter":0},"axis":null},"y":{"datum":121,"type":"quantitative","scale":{"domain":[-87,372],"nice":false,"zero":false},"axis":null},"text":{"field":"t5"}}},
   {"mark":{"type":"text","align":"left","baseline":"middle","dx":0.5,"fontSize":7.5,"font":"Liberation Sans Narrow, DejaVu Sans Condensed, sans-serif","fill":"#2a2a2a"},"encoding":{"x":{"field":"el","type":"nominal","bandPosition":0,"scale":{"type":"band","domain":["Sb","U","As","Be","Hg","Cd","Pb","Al"],"paddingInner":0,"paddingOuter":0},"axis":null},"y":{"datum":121,"type":"quantitative","scale":{"domain":[-87,372],"nice":false,"zero":false},"axis":null},"text":{"value":"–"}}},
   {"mark":{"type":"text","align":"left","baseline":"middle","dx":4.5,"fontSize":7.5,"font":"Liberation Sans Narrow, DejaVu Sans Condensed, sans-serif","fill":"#2a2a2a"},"encoding":{"x":{"field":"el","type":"nominal","bandPosition":0,"scale":{"type":"band","domain":["Sb","U","As","Be","Hg","Cd","Pb","Al"],"paddingInner":0,"paddingOuter":0},"axis":null},"y":{"datum":72,"type":"quantitative","scale":{"domain":[-87,372],"nice":false,"zero":false},"axis":null},"text":{"field":"t6"}}},
   {"mark":{"type":"text","align":"left","baseline":"middle","dx":0.5,"fontSize":7.5,"font":"Liberation Sans Narrow, DejaVu Sans Condensed, sans-serif","fill":"#2a2a2a"},"encoding":{"x":{"field":"el","type":"nominal","bandPosition":0,"scale":{"type":"band","domain":["Sb","U","As","Be","Hg","Cd","Pb","Al"],"paddingInner":0,"paddingOuter":0},"axis":null},"y":{"datum":72,"type":"quantitative","scale":{"domain":[-87,372],"nice":false,"zero":false},"axis":null},"text":{"value":"–"}}},
   {"transform":[{"filter":"isValid(datum.bar)"}],"mark":{"type":"bar","width":6,"xOffset":4,"color":"#6e6e6e","stroke":"#3a3a3a","strokeWidth":0.6},"encoding":{"x":{"field":"el","type":"nominal","scale":{"type":"band","domain":["Sb","U","As","Be","Hg","Cd","Pb","Al"],"paddingInner":0,"paddingOuter":0},"axis":null},"y":{"field":"bar","type":"quantitative","scale":{"domain":[-87,372],"nice":false,"zero":false},"axis":null},"y2":{"datum":0}}},
   {"transform":[{"filter":"datum.flag=='<<'"}],"mark":{"type":"text","baseline":"middle","fontSize":8,"font":"Liberation Sans, Arial, sans-serif","fill":"#333333"},"encoding":{"x":{"field":"el","type":"nominal","bandPosition":0.5,"scale":{"type":"band","domain":["Sb","U","As","Be","Hg","Cd","Pb","Al"],"paddingInner":0,"paddingOuter":0},"axis":null},"y":{"datum":6,"type":"quantitative","scale":{"domain":[-87,372],"nice":false,"zero":false},"axis":null},"text":{"field":"flag"}}},
   {"mark":{"type":"text","baseline":"middle","fontSize":16.5,"fontWeight":"bold","font":"Liberation Sans Narrow, DejaVu Sans Condensed, sans-serif","fill":"#962558"},"encoding":{"x":{"field":"el","type":"nominal","bandPosition":0.5,"scale":{"type":"band","domain":["Sb","U","As","Be","Hg","Cd","Pb","Al"],"paddingInner":0,"paddingOuter":0},"axis":null},"y":{"datum":-11.5,"type":"quantitative","scale":{"domain":[-87,372],"nice":false,"zero":false},"axis":null},"text":{"field":"el"}}},
   {"mark":{"type":"text","baseline":"middle","fontSize":5.5,"font":"Liberation Sans Narrow, DejaVu Sans Condensed, sans-serif","fill":"#222222"},"encoding":{"x":{"field":"el","type":"nominal","bandPosition":0.5,"scale":{"type":"band","domain":["Sb","U","As","Be","Hg","Cd","Pb","Al"],"paddingInner":0,"paddingOuter":0},"axis":null},"y":{"datum":-30,"type":"quantitative","scale":{"domain":[-87,372],"nice":false,"zero":false},"axis":null},"text":{"field":"name"}}},
   {"mark":{"type":"text","align":"right","baseline":"middle","dx":-3,"fontSize":12,"font":"Liberation Sans, Arial, sans-serif","fill":"#333333"},"encoding":{"x":{"field":"el","type":"nominal","bandPosition":1,"scale":{"type":"band","domain":["Sb","U","As","Be","Hg","Cd","Pb","Al"],"paddingInner":0,"paddingOuter":0},"axis":null},"y":{"datum":-49.5,"type":"quantitative","scale":{"domain":[-87,372],"nice":false,"zero":false},"axis":null},"text":{"field":"res"}}}
  ]},
  {"data":{"values":[{"title":"TOXIC ELEMENTS"}]},"layer":[
   {"mark":{"type":"rect","fill":"#ffffff","stroke":"#8a3a62","strokeWidth":1},"encoding":{"x":{"datum":"Sb","type":"nominal","bandPosition":0,"scale":{"type":"band","domain":["Sb","U","As","Be","Hg","Cd","Pb","Al"],"paddingInner":0,"paddingOuter":0},"axis":null},"x2":{"datum":"Hg","bandPosition":0.07},"y":{"datum":365,"type":"quantitative","scale":{"domain":[-87,372],"nice":false,"zero":false},"axis":null},"y2":{"datum":345}}},
   {"mark":{"type":"text","align":"left","baseline":"middle","dx":3,"fontSize":13.2,"fontWeight":"bold","font":"Liberation Sans Narrow, DejaVu Sans Condensed, sans-serif","fill":"#8c1f45"},"encoding":{"x":{"datum":"Sb","type":"nominal","bandPosition":0,"scale":{"type":"band","domain":["Sb","U","As","Be","Hg","Cd","Pb","Al"],"paddingInner":0,"paddingOuter":0},"axis":null},"y":{"datum":355,"type":"quantitative","scale":{"domain":[-87,372],"nice":false,"zero":false},"axis":null},"text":{"field":"title"}}}
  ]}
 ]},
 {"width":26,"height":459,"data":{"values":[{"hi":"HIGH","ref":"REFERENCE\nRANGE"}]},"layer":[
  {"mark":{"type":"rule","stroke":"#8a3a62","strokeWidth":1},"encoding":{"y":{"datum":72,"type":"quantitative","scale":{"domain":[-87,372],"nice":false,"zero":false},"axis":null}}},
  {"mark":{"type":"point","filled":true,"size":22,"color":"#8a3a62","opacity":1,"xOffset":11},"encoding":{"y":{"datum":72,"type":"quantitative","scale":{"domain":[-87,372],"nice":false,"zero":false},"axis":null}}},
  {"mark":{"type":"text","angle":90,"baseline":"middle","fontSize":9,"font":"Liberation Sans, Arial, sans-serif","fill":"#a3416f","xOffset":-4},"encoding":{"y":{"datum":272,"type":"quantitative","scale":{"domain":[-87,372],"nice":false,"zero":false},"axis":null},"text":{"field":"hi"}}},
  {"mark":{"type":"text","angle":90,"baseline":"middle","lineBreak":"\n","lineHeight":8,"fontSize":9,"font":"Liberation Sans, Arial, sans-serif","fill":"#a3416f","xOffset":6},"encoding":{"y":{"datum":37,"type":"quantitative","scale":{"domain":[-87,372],"nice":false,"zero":false},"axis":null},"text":{"field":"ref"}}}
 ]}
],"spacing":0,"bounds":"flush","resolve":{"scale":{"color":"independent"}}},

{"hconcat":[
 {"width":27,"height":388,"data":{"values":[{"hi":"HIGH","ref":"REFERENCE RANGE","lo":"LOW"}]},"layer":[
  {"mark":{"type":"rule","stroke":"#4c98c4","strokeWidth":1},"encoding":{"y":{"datum":145,"type":"quantitative","scale":{"domain":[-104,284],"nice":false,"zero":false},"axis":null}}},
  {"mark":{"type":"rule","stroke":"#4c98c4","strokeWidth":1},"encoding":{"y":{"datum":47,"type":"quantitative","scale":{"domain":[-104,284],"nice":false,"zero":false},"axis":null}}},
  {"mark":{"type":"point","filled":true,"size":22,"color":"#4c98c4","opacity":1,"xOffset":-6},"encoding":{"y":{"datum":145,"type":"quantitative","scale":{"domain":[-104,284],"nice":false,"zero":false},"axis":null}}},
  {"mark":{"type":"point","filled":true,"size":22,"color":"#4c98c4","opacity":1,"xOffset":-6},"encoding":{"y":{"datum":47,"type":"quantitative","scale":{"domain":[-104,284],"nice":false,"zero":false},"axis":null}}},
  {"mark":{"type":"tick","orient":"horizontal","size":5,"thickness":1,"color":"#4c98c4","opacity":1,"xOffset":4},"encoding":{"y":{"datum":119,"type":"quantitative","scale":{"domain":[-104,284],"nice":false,"zero":false},"axis":null}}},
  {"mark":{"type":"tick","orient":"horizontal","size":5,"thickness":1,"color":"#4c98c4","opacity":1,"xOffset":4},"encoding":{"y":{"datum":70,"type":"quantitative","scale":{"domain":[-104,284],"nice":false,"zero":false},"axis":null}}},
  {"mark":{"type":"text","angle":270,"baseline":"middle","fontSize":9,"font":"Liberation Sans, Arial, sans-serif","fill":"#4b96c3","xOffset":1},"encoding":{"y":{"datum":193,"type":"quantitative","scale":{"domain":[-104,284],"nice":false,"zero":false},"axis":null},"text":{"field":"hi"}}},
  {"mark":{"type":"text","angle":270,"baseline":"middle","fontSize":9,"font":"Liberation Sans, Arial, sans-serif","fill":"#4b96c3","xOffset":-3},"encoding":{"y":{"datum":95,"type":"quantitative","scale":{"domain":[-104,284],"nice":false,"zero":false},"axis":null},"text":{"field":"ref"}}},
  {"mark":{"type":"text","angle":270,"baseline":"middle","fontSize":9,"font":"Liberation Sans, Arial, sans-serif","fill":"#4b96c3","xOffset":1},"encoding":{"y":{"datum":28,"type":"quantitative","scale":{"domain":[-104,284],"nice":false,"zero":false},"axis":null},"text":{"field":"lo"}}}
 ]},
 {"width":515,"height":388,"layer":[
  {"data":{"name":"addZones"},"mark":{"type":"rect"},"encoding":{"y":{"field":"lo","type":"quantitative","scale":{"domain":[-104,284],"nice":false,"zero":false},"axis":null},"y2":{"field":"hi"},"color":{"field":"zone","type":"nominal","scale":{"domain":["HIGH","REF EDGE","REF CORE","LOW"],"range":["#93c4df","#bad9ec","#dcedf7","#93c4df"]},"legend":null}}},
  {"data":{"values":[{}]},"layer":[
   {"mark":{"type":"rule","stroke":"#4c98c4","strokeWidth":1},"encoding":{"y":{"datum":241,"type":"quantitative","scale":{"domain":[-104,284],"nice":false,"zero":false},"axis":null}}},
   {"mark":{"type":"rule","stroke":"#4c98c4","strokeWidth":1},"encoding":{"y":{"datum":0,"type":"quantitative","scale":{"domain":[-104,284],"nice":false,"zero":false},"axis":null}}},
   {"mark":{"type":"rule","stroke":"#4c98c4","strokeWidth":1},"encoding":{"y":{"datum":-26,"type":"quantitative","scale":{"domain":[-104,284],"nice":false,"zero":false},"axis":null}}},
   {"mark":{"type":"rule","stroke":"#4c98c4","strokeWidth":1},"encoding":{"y":{"datum":-44,"type":"quantitative","scale":{"domain":[-104,284],"nice":false,"zero":false},"axis":null}}},
   {"mark":{"type":"rule","stroke":"#4c98c4","strokeWidth":1},"encoding":{"y":{"datum":-68,"type":"quantitative","scale":{"domain":[-104,284],"nice":false,"zero":false},"axis":null}}},
   {"mark":{"type":"rule","stroke":"#4c98c4","strokeWidth":1},"encoding":{"y":{"datum":-95,"type":"quantitative","scale":{"domain":[-104,284],"nice":false,"zero":false},"axis":null}}}
  ]},
  {"data":{"name":"add"},"layer":[
   {"mark":{"type":"rule","stroke":"#4c98c4","strokeWidth":1},"encoding":{"x":{"field":"el","type":"nominal","bandPosition":0,"scale":{"type":"band","domain":["Ge","Ba","Bi","Rb","Li","Ni","Pt","Tl","I","V","Sr","Sn","Ti","W","Zr","_1","_2"],"paddingInner":0,"paddingOuter":0},"axis":null},"y":{"datum":241,"type":"quantitative","scale":{"domain":[-104,284],"nice":false,"zero":false},"axis":null},"y2":{"datum":-95}}},
   {"transform":[{"filter":"datum.el=='_2'"}],"mark":{"type":"rule","stroke":"#4c98c4","strokeWidth":1},"encoding":{"x":{"field":"el","type":"nominal","bandPosition":1,"scale":{"type":"band","domain":["Ge","Ba","Bi","Rb","Li","Ni","Pt","Tl","I","V","Sr","Sn","Ti","W","Zr","_1","_2"],"paddingInner":0,"paddingOuter":0},"axis":null},"y":{"datum":241,"type":"quantitative","scale":{"domain":[-104,284],"nice":false,"zero":false},"axis":null},"y2":{"datum":-95}}},
   {"transform":[{"filter":"datum.t1!=''"}],"mark":{"type":"text","align":"left","baseline":"middle","dx":4.5,"fontSize":7.5,"font":"Liberation Sans Narrow, DejaVu Sans Condensed, sans-serif","fill":"#2a2a2a"},"encoding":{"x":{"field":"el","type":"nominal","bandPosition":0,"scale":{"type":"band","domain":["Ge","Ba","Bi","Rb","Li","Ni","Pt","Tl","I","V","Sr","Sn","Ti","W","Zr","_1","_2"],"paddingInner":0,"paddingOuter":0},"axis":null},"y":{"datum":193,"type":"quantitative","scale":{"domain":[-104,284],"nice":false,"zero":false},"axis":null},"text":{"field":"t1"}}},
   {"transform":[{"filter":"datum.t1!=''"}],"mark":{"type":"text","align":"left","baseline":"middle","dx":0.5,"fontSize":7.5,"font":"Liberation Sans Narrow, DejaVu Sans Condensed, sans-serif","fill":"#2a2a2a"},"encoding":{"x":{"field":"el","type":"nominal","bandPosition":0,"scale":{"type":"band","domain":["Ge","Ba","Bi","Rb","Li","Ni","Pt","Tl","I","V","Sr","Sn","Ti","W","Zr","_1","_2"],"paddingInner":0,"paddingOuter":0},"axis":null},"y":{"datum":193,"type":"quantitative","scale":{"domain":[-104,284],"nice":false,"zero":false},"axis":null},"text":{"value":"–"}}},
   {"transform":[{"filter":"datum.t2!=''"}],"mark":{"type":"text","align":"left","baseline":"middle","dx":4.5,"fontSize":7.5,"font":"Liberation Sans Narrow, DejaVu Sans Condensed, sans-serif","fill":"#2a2a2a"},"encoding":{"x":{"field":"el","type":"nominal","bandPosition":0,"scale":{"type":"band","domain":["Ge","Ba","Bi","Rb","Li","Ni","Pt","Tl","I","V","Sr","Sn","Ti","W","Zr","_1","_2"],"paddingInner":0,"paddingOuter":0},"axis":null},"y":{"datum":145,"type":"quantitative","scale":{"domain":[-104,284],"nice":false,"zero":false},"axis":null},"text":{"field":"t2"}}},
   {"transform":[{"filter":"datum.t2!=''"}],"mark":{"type":"text","align":"left","baseline":"middle","dx":0.5,"fontSize":7.5,"font":"Liberation Sans Narrow, DejaVu Sans Condensed, sans-serif","fill":"#2a2a2a"},"encoding":{"x":{"field":"el","type":"nominal","bandPosition":0,"scale":{"type":"band","domain":["Ge","Ba","Bi","Rb","Li","Ni","Pt","Tl","I","V","Sr","Sn","Ti","W","Zr","_1","_2"],"paddingInner":0,"paddingOuter":0},"axis":null},"y":{"datum":145,"type":"quantitative","scale":{"domain":[-104,284],"nice":false,"zero":false},"axis":null},"text":{"value":"–"}}},
   {"transform":[{"filter":"datum.t3!=''"}],"mark":{"type":"text","align":"left","baseline":"middle","dx":4.5,"fontSize":7.5,"font":"Liberation Sans Narrow, DejaVu Sans Condensed, sans-serif","fill":"#2a2a2a"},"encoding":{"x":{"field":"el","type":"nominal","bandPosition":0,"scale":{"type":"band","domain":["Ge","Ba","Bi","Rb","Li","Ni","Pt","Tl","I","V","Sr","Sn","Ti","W","Zr","_1","_2"],"paddingInner":0,"paddingOuter":0},"axis":null},"y":{"datum":47,"type":"quantitative","scale":{"domain":[-104,284],"nice":false,"zero":false},"axis":null},"text":{"field":"t3"}}},
   {"transform":[{"filter":"datum.t3!=''"}],"mark":{"type":"text","align":"left","baseline":"middle","dx":0.5,"fontSize":7.5,"font":"Liberation Sans Narrow, DejaVu Sans Condensed, sans-serif","fill":"#2a2a2a"},"encoding":{"x":{"field":"el","type":"nominal","bandPosition":0,"scale":{"type":"band","domain":["Ge","Ba","Bi","Rb","Li","Ni","Pt","Tl","I","V","Sr","Sn","Ti","W","Zr","_1","_2"],"paddingInner":0,"paddingOuter":0},"axis":null},"y":{"datum":47,"type":"quantitative","scale":{"domain":[-104,284],"nice":false,"zero":false},"axis":null},"text":{"value":"–"}}},
   {"transform":[{"filter":"isValid(datum.bar)"}],"mark":{"type":"bar","width":6,"xOffset":4,"color":"#6e6e6e","stroke":"#3a3a3a","strokeWidth":0.6},"encoding":{"x":{"field":"el","type":"nominal","scale":{"type":"band","domain":["Ge","Ba","Bi","Rb","Li","Ni","Pt","Tl","I","V","Sr","Sn","Ti","W","Zr","_1","_2"],"paddingInner":0,"paddingOuter":0},"axis":null},"y":{"field":"bar","type":"quantitative","scale":{"domain":[-104,284],"nice":false,"zero":false},"axis":null},"y2":{"datum":0}}},
   {"transform":[{"filter":"datum.flag=='<<'"}],"mark":{"type":"text","baseline":"middle","fontSize":8,"font":"Liberation Sans, Arial, sans-serif","fill":"#333333"},"encoding":{"x":{"field":"el","type":"nominal","bandPosition":0.5,"scale":{"type":"band","domain":["Ge","Ba","Bi","Rb","Li","Ni","Pt","Tl","I","V","Sr","Sn","Ti","W","Zr","_1","_2"],"paddingInner":0,"paddingOuter":0},"axis":null},"y":{"datum":6,"type":"quantitative","scale":{"domain":[-104,284],"nice":false,"zero":false},"axis":null},"text":{"field":"flag"}}},
   {"transform":[{"filter":"datum.name!=''"}],"mark":{"type":"text","baseline":"middle","fontSize":16.5,"fontWeight":"bold","font":"Liberation Sans Narrow, DejaVu Sans Condensed, sans-serif","fill":"#4a93bf"},"encoding":{"x":{"field":"el","type":"nominal","bandPosition":0.5,"scale":{"type":"band","domain":["Ge","Ba","Bi","Rb","Li","Ni","Pt","Tl","I","V","Sr","Sn","Ti","W","Zr","_1","_2"],"paddingInner":0,"paddingOuter":0},"axis":null},"y":{"datum":-13,"type":"quantitative","scale":{"domain":[-104,284],"nice":false,"zero":false},"axis":null},"text":{"field":"el"}}},
   {"mark":{"type":"text","baseline":"middle","fontSize":5.5,"font":"Liberation Sans Narrow, DejaVu Sans Condensed, sans-serif","fill":"#222222"},"encoding":{"x":{"field":"el","type":"nominal","bandPosition":0.5,"scale":{"type":"band","domain":["Ge","Ba","Bi","Rb","Li","Ni","Pt","Tl","I","V","Sr","Sn","Ti","W","Zr","_1","_2"],"paddingInner":0,"paddingOuter":0},"axis":null},"y":{"datum":-35,"type":"quantitative","scale":{"domain":[-104,284],"nice":false,"zero":false},"axis":null},"text":{"field":"name"}}},
   {"mark":{"type":"text","align":"right","baseline":"middle","dx":-3,"fontSize":12,"font":"Liberation Sans, Arial, sans-serif","fill":"#333333"},"encoding":{"x":{"field":"el","type":"nominal","bandPosition":1,"scale":{"type":"band","domain":["Ge","Ba","Bi","Rb","Li","Ni","Pt","Tl","I","V","Sr","Sn","Ti","W","Zr","_1","_2"],"paddingInner":0,"paddingOuter":0},"axis":null},"y":{"datum":-56,"type":"quantitative","scale":{"domain":[-104,284],"nice":false,"zero":false},"axis":null},"text":{"field":"res"}}}
  ]},
  {"data":{"values":[{"title":"ADDITIONAL ELEMENTS"}]},"layer":[
   {"mark":{"type":"rect","fill":"#ffffff","stroke":"#7fb6d6","strokeWidth":1},"encoding":{"x":{"datum":"Ge","type":"nominal","bandPosition":0,"scale":{"type":"band","domain":["Ge","Ba","Bi","Rb","Li","Ni","Pt","Tl","I","V","Sr","Sn","Ti","W","Zr","_1","_2"],"paddingInner":0,"paddingOuter":0},"axis":null},"x2":{"datum":"Ni","bandPosition":0.48},"y":{"datum":261,"type":"quantitative","scale":{"domain":[-104,284],"nice":false,"zero":false},"axis":null},"y2":{"datum":239}}},
   {"mark":{"type":"text","align":"left","baseline":"middle","dx":3,"fontSize":13.2,"fontWeight":"bold","font":"Liberation Sans Narrow, DejaVu Sans Condensed, sans-serif","fill":"#3f8ab8"},"encoding":{"x":{"datum":"Ge","type":"nominal","bandPosition":0,"scale":{"type":"band","domain":["Ge","Ba","Bi","Rb","Li","Ni","Pt","Tl","I","V","Sr","Sn","Ti","W","Zr","_1","_2"],"paddingInner":0,"paddingOuter":0},"axis":null},"y":{"datum":250,"type":"quantitative","scale":{"domain":[-104,284],"nice":false,"zero":false},"axis":null},"text":{"field":"title"}}}
  ]}
 ]},
 {"width":13,"height":10,"data":{"values":[{}]},"mark":{"type":"point","opacity":0}},
 {"vconcat":[
  {"width":180,"height":44,"data":{"values":[{}]},"mark":{"type":"point","opacity":0}},
  {"width":180,"height":37,"view":{"fill":"#c9c9cd","stroke":"#555555","strokeWidth":1},"data":{"values":[{"note":"\"<<\": Below Calibration Limit;\nValue Given Is Calibration Limit."}]},"mark":{"type":"text","lineBreak":"\n","lineHeight":11,"baseline":"middle","dy":-6,"fontSize":6.5,"font":"Liberation Sans Narrow, DejaVu Sans Condensed, sans-serif","fill":"#333333"},"encoding":{"text":{"field":"note"}}},
  {"width":180,"height":30,"view":{"fill":"#c9c9cd","stroke":"#555555","strokeWidth":1},"data":{"values":[{"note":"\"QNS\": Sample Size Was Inadequate For Analysis."}]},"mark":{"type":"text","lineBreak":"\n","lineHeight":11,"baseline":"middle","fontSize":6.5,"font":"Liberation Sans Narrow, DejaVu Sans Condensed, sans-serif","fill":"#333333"},"encoding":{"text":{"field":"note"}}},
  {"width":180,"height":27,"view":{"fill":"#c9c9cd","stroke":"#555555","strokeWidth":1},"data":{"values":[{"note":"\"N/A\": Currently Not Available"}]},"mark":{"type":"text","lineBreak":"\n","lineHeight":11,"baseline":"middle","fontSize":6.5,"font":"Liberation Sans Narrow, DejaVu Sans Condensed, sans-serif","fill":"#333333"},"encoding":{"text":{"field":"note"}}},
  {"width":180,"height":50,"view":{"fill":"#c9c9cd","stroke":"#555555","strokeWidth":1},"data":{"values":[{"note":"Ideal Levels And Interpretation Have Been Based On Hair\nSamples Obtained From The Mid-Parietal To The Occipital\nRegion Of The Scalp."}]},"mark":{"type":"text","lineBreak":"\n","lineHeight":12,"baseline":"middle","dy":-12,"fontSize":6.5,"font":"Liberation Sans Narrow, DejaVu Sans Condensed, sans-serif","fill":"#333333"},"encoding":{"text":{"field":"note"}}},
  {"width":180,"height":50,"view":{"fill":"#c9c9cd","stroke":"#555555","strokeWidth":1},"data":{"values":[{"note":"Laboratory Analysis Provided by\nTrace Elements, Inc., an H.H.S. Licensed Clinical\nLaboratory.    No. 45 D0481787"}]},"mark":{"type":"text","lineBreak":"\n","lineHeight":11.5,"baseline":"middle","dy":-11,"fontSize":6.5,"font":"Liberation Sans Narrow, DejaVu Sans Condensed, sans-serif","fill":"#333333"},"encoding":{"text":{"field":"note"}}},
  {"width":180,"height":105,"data":{"values":[{}]},"mark":{"type":"point","opacity":0}},
  {"width":138,"height":42,"data":{"values":[{"label":"CURRENT TEST RESULTS","date":"2003-05-01"},{"label":"PREVIOUS TEST RESULTS","date":""}]},"layer":[
   {"mark":{"type":"rule","stroke":"#555555","strokeWidth":1},"encoding":{"y":{"field":"label","type":"nominal","bandPosition":0.5,"scale":{"type":"band","domain":["CURRENT TEST RESULTS","PREVIOUS TEST RESULTS"],"paddingInner":0,"paddingOuter":0},"axis":null}}},
   {"mark":{"type":"text","baseline":"top","dy":1.5,"fontSize":6.5,"font":"Liberation Sans Narrow, DejaVu Sans Condensed, sans-serif","fill":"#444444"},"encoding":{"y":{"field":"label","type":"nominal","bandPosition":0.5,"scale":{"type":"band","domain":["CURRENT TEST RESULTS","PREVIOUS TEST RESULTS"],"paddingInner":0,"paddingOuter":0},"axis":null},"text":{"field":"label"}}},
   {"mark":{"type":"text","baseline":"bottom","dy":-0.5,"dx":-14,"fontSize":11.5,"font":"Liberation Sans, Arial, sans-serif","fill":"#444444"},"encoding":{"y":{"field":"label","type":"nominal","bandPosition":0.5,"scale":{"type":"band","domain":["CURRENT TEST RESULTS","PREVIOUS TEST RESULTS"],"paddingInner":0,"paddingOuter":0},"axis":null},"text":{"field":"date"}}}
  ]}
 ],"spacing":0,"bounds":"flush"},
 {"vconcat":[
  {"width":44,"height":225,"data":{"values":[{}]},"mark":{"type":"point","opacity":0}},
  {"width":44,"height":155,"data":{"values":[{"c":"© Trace Elements, Inc. 1998, 2000"}]},"mark":{"type":"text","angle":270,"baseline":"middle","fontSize":8.5,"font":"Liberation Sans, Arial, sans-serif","fill":"#444444","xOffset":5},"encoding":{"text":{"field":"c"}}}
 ],"spacing":0,"bounds":"flush"}
],"spacing":0,"bounds":"full","resolve":{"scale":{"color":"independent"}}}
],
"spacing":0,
"bounds":"full",
"resolve":{"scale":{"color":"independent"}}
}
